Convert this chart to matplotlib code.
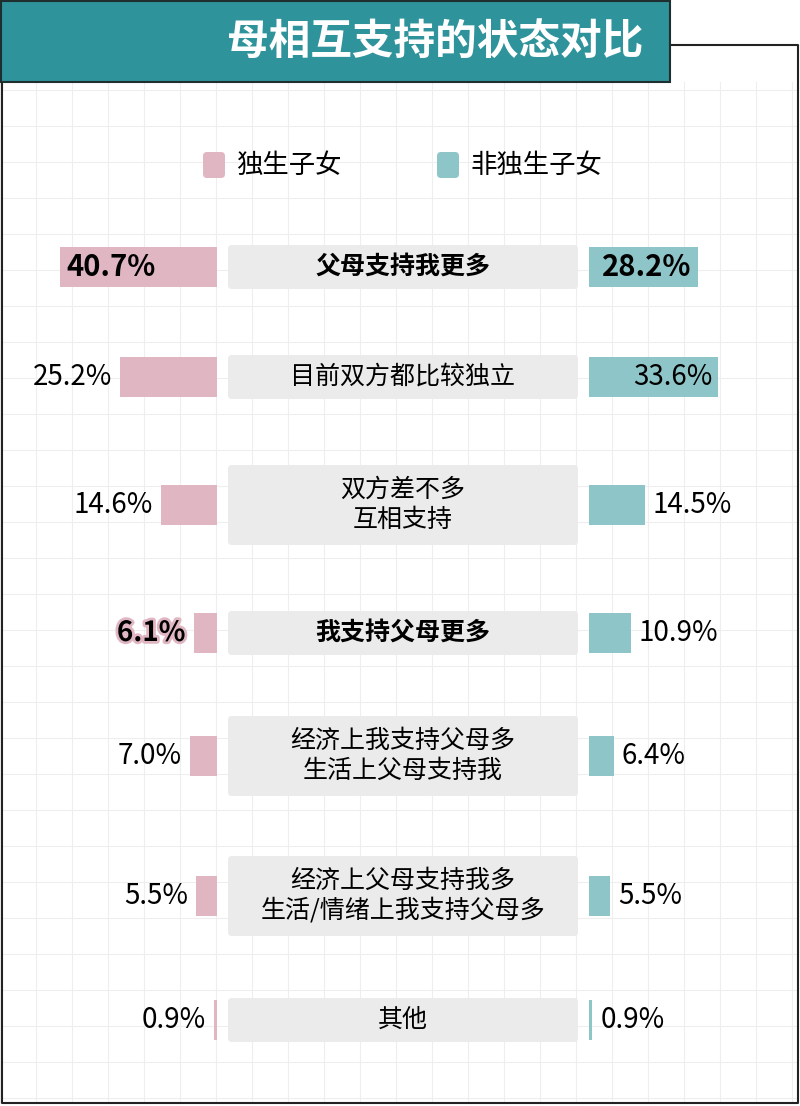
import matplotlib
matplotlib.use("Agg")
import matplotlib.pyplot as plt
from matplotlib.patches import FancyBboxPatch, Rectangle
import matplotlib.patheffects as pe

plt.rcParams['font.family'] = ['Noto Sans CJK SC', 'DejaVu Sans']

title = "母相互支持的状态对比"
series_names = ["独生子女", "非独生子女"]
categories = ["父母支持我更多", "目前双方都比较独立", "双方差不多\n互相支持", "我支持父母更多",
              "经济上我支持父母多\n生活上父母支持我", "经济上父母支持我多\n生活/情绪上我支持父母多", "其他"]
only_child = [40.7, 25.2, 14.6, 6.1, 7.0, 5.5, 0.9]
non_only = [28.2, 33.6, 14.5, 10.9, 6.4, 5.5, 0.9]

row_y = [267, 377, 505, 633, 756, 896, 1020]
box_h = [44, 44, 80, 44, 80, 80, 44]
bold_rows = [0, 3]
scale = 3.85
LX, RX = 217, 589
pink, teal, grey = "#dfb6c1", "#8ec5c8", "#ebebeb"

fig = plt.figure(figsize=(8, 11.06), dpi=100)
ax = fig.add_axes([0, 0, 1, 1])
ax.set_xlim(0, 800); ax.set_ylim(1106, 0); ax.axis("off")

for g in range(0, 800, 36):
    ax.plot([g, g], [82, 1103], color="#eeeeee", lw=0.8, zorder=0)
for g in range(90, 1106, 36):
    ax.plot([2, 798], [g, g], color="#eeeeee", lw=0.8, zorder=0)

# frame
ax.plot([670, 798, 798, 2, 2], [45, 45, 1103, 1103, 82], color="#222222", lw=1.5, zorder=1)
ax.add_patch(Rectangle((1, 1), 669, 81, facecolor="#2f939b", edgecolor="#1f2f30", lw=1.5, zorder=2))
ax.text(643, 42, title, color="white", fontsize=30, fontweight="bold", ha="right", va="center", zorder=3)

# legend
ax.add_patch(FancyBboxPatch((203, 152), 22, 26, boxstyle="round,pad=0,rounding_size=4", fc=pink, ec="none"))
ax.text(236, 165, series_names[0], fontsize=19, va="center")
ax.add_patch(FancyBboxPatch((437, 152), 22, 26, boxstyle="round,pad=0,rounding_size=4", fc=teal, ec="none"))
ax.text(470, 165, series_names[1], fontsize=19, va="center")

bh = 40
for i, (cat, a, b, y, h) in enumerate(zip(categories, only_child, non_only, row_y, box_h)):
    bold = "bold" if i in bold_rows else "normal"
    ax.add_patch(FancyBboxPatch((228, y - h / 2), 350, h, boxstyle="round,pad=0,rounding_size=4", fc=grey, ec="none", zorder=2))
    ax.text(403, y, cat, fontsize=18, ha="center", va="center", fontweight=bold, linespacing=1.2, zorder=3)
    wl = a * scale
    ax.barh(y, wl, left=LX - wl, height=bh, color=pink, zorder=2)
    wr = b * scale
    ax.barh(y, wr, left=RX, height=bh, color=teal, zorder=2)
    if wl > 100:
        ax.text(LX - wl + 6, y, f"{a:.1f}%", fontsize=21, fontweight=bold, va="center", zorder=3)
    else:
        t = ax.text(LX - wl - 8, y, f"{a:.1f}%", fontsize=20, fontweight=bold, va="center", ha="right", zorder=3)
        if i in bold_rows:
            t.set_path_effects([pe.withStroke(linewidth=4, foreground=pink)])
    if wr > 100:
        ax.text(RX + wr - 6, y, f"{b:.1f}%", fontsize=21 if i in bold_rows else 20,
                fontweight=bold, va="center", ha="right", zorder=3)
    else:
        ax.text(RX + wr + 8, y, f"{b:.1f}%", fontsize=20, va="center", zorder=3)

fig.savefig("out.png", dpi=100)
